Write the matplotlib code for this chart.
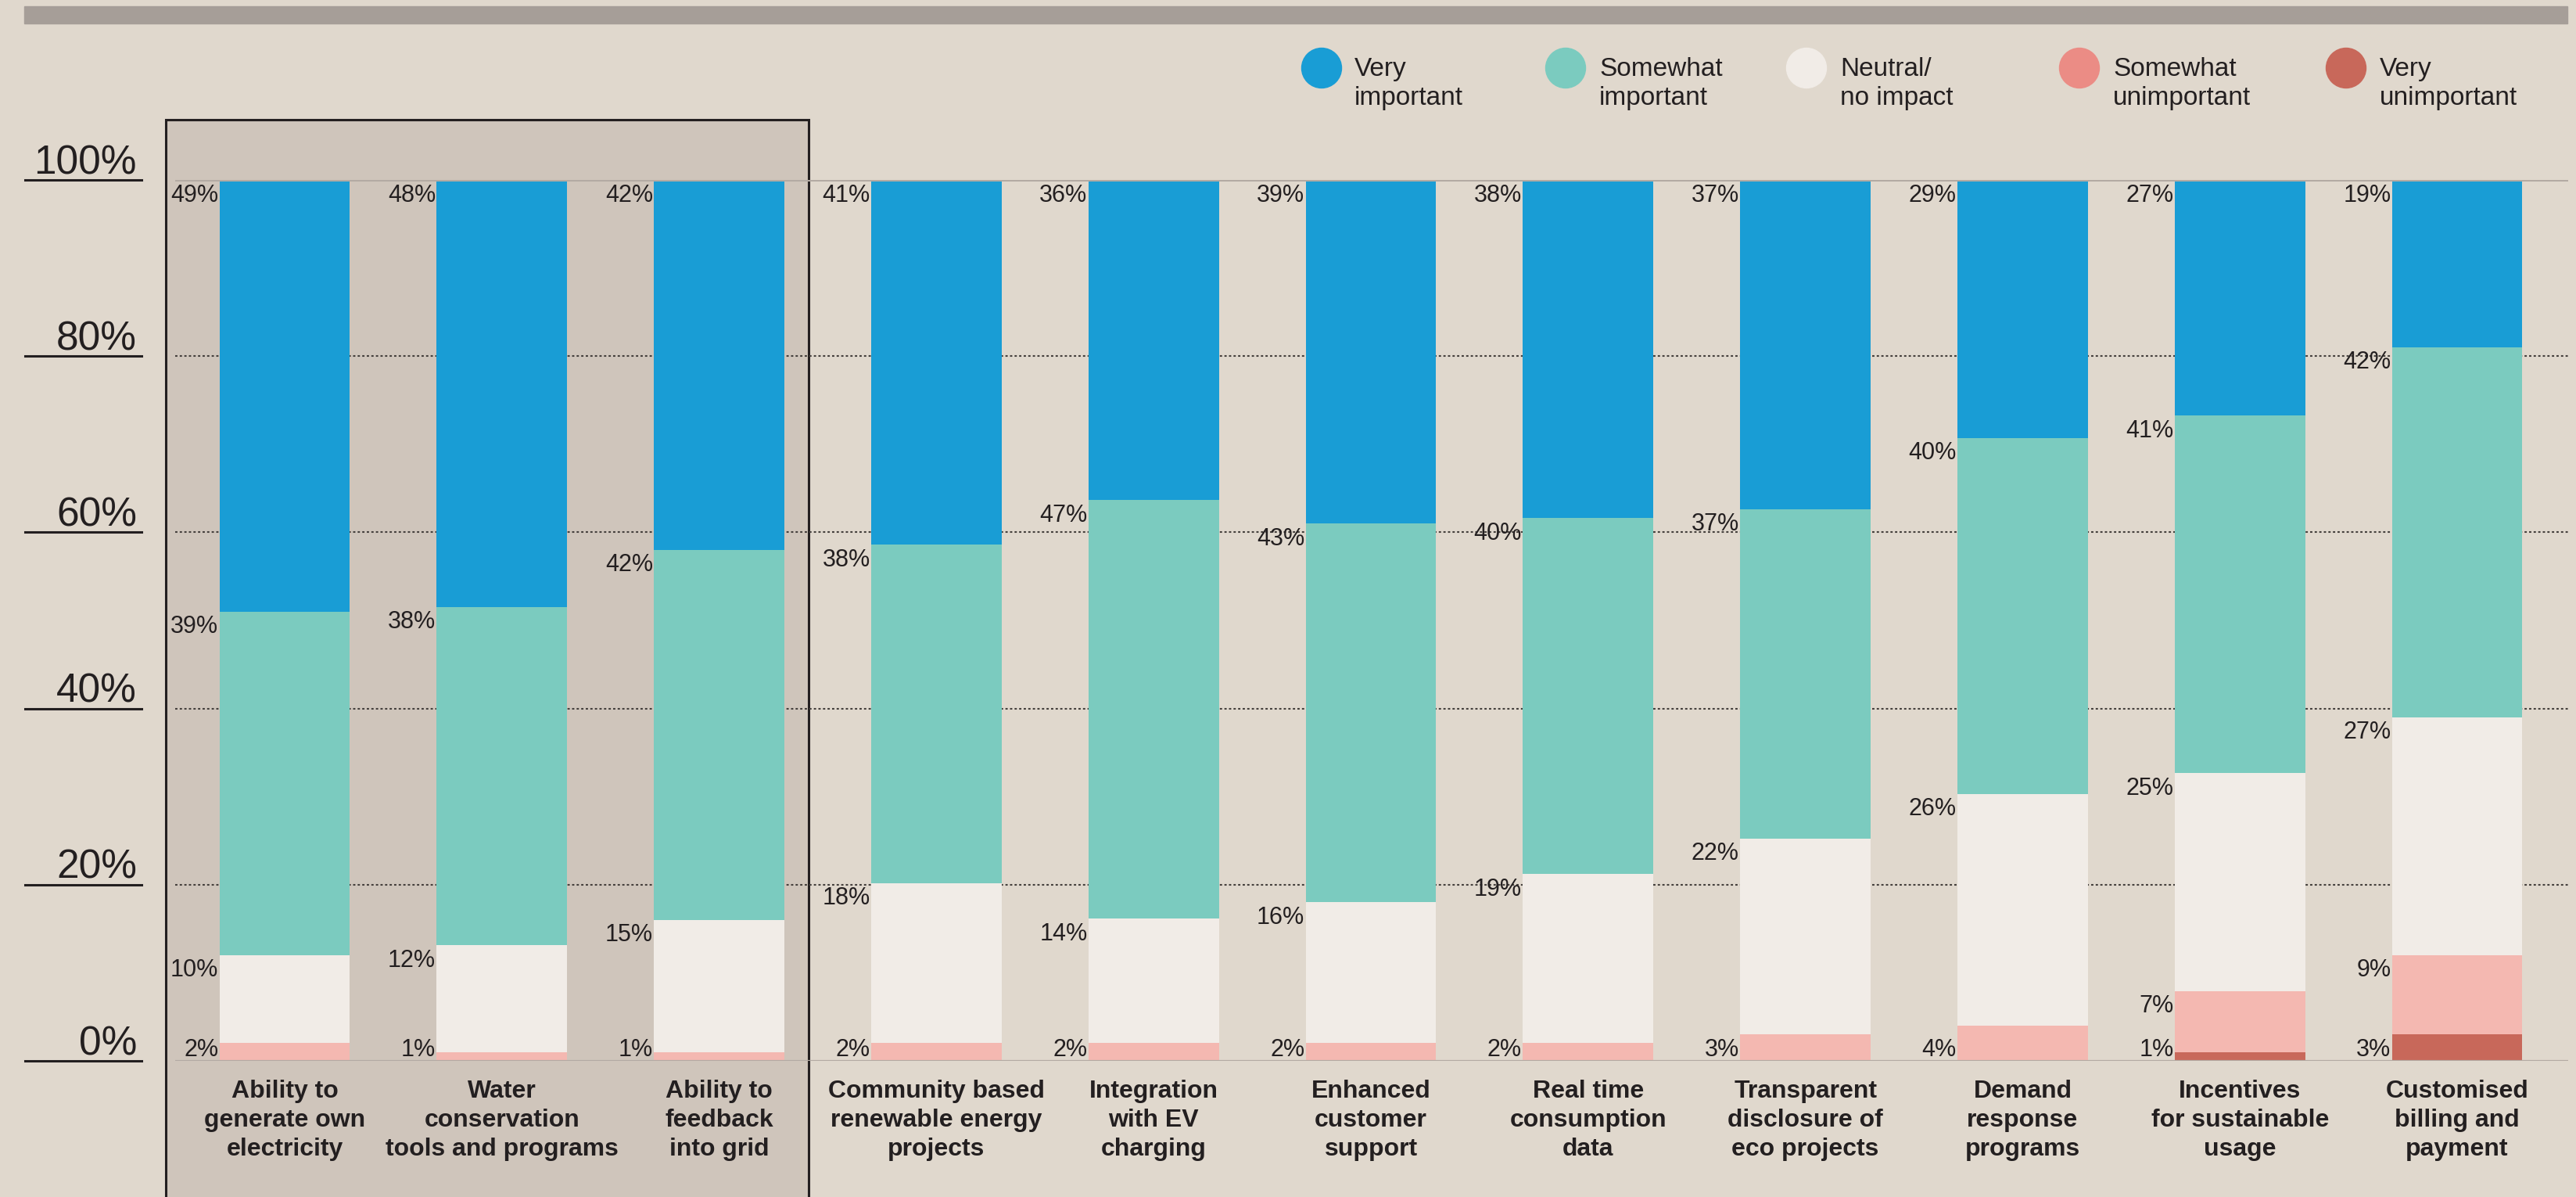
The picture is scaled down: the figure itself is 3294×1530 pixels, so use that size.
import numpy as np
import matplotlib.pyplot as plt
from matplotlib.patches import Rectangle, Ellipse
from matplotlib.lines import Line2D
from matplotlib.transforms import blended_transform_factory

plt.rcParams['font.family'] = ['Liberation Sans', 'DejaVu Sans']

categories = [
    "Ability to\ngenerate own\nelectricity",
    "Water\nconservation\ntools and programs",
    "Ability to\nfeedback\ninto grid",
    "Community based\nrenewable energy\nprojects",
    "Integration\nwith EV\ncharging",
    "Enhanced\ncustomer\nsupport",
    "Real time\nconsumption\ndata",
    "Transparent\ndisclosure of\neco projects",
    "Demand\nresponse\nprograms",
    "Incentives\nfor sustainable\nusage",
    "Customised\nbilling and\npayment",
]

# stacked bottom -> top
very_unimportant = [0, 0, 0, 0, 0, 0, 0, 0, 0, 1, 3]
somewhat_unimportant = [2, 1, 1, 2, 2, 2, 2, 3, 4, 7, 9]
neutral = [10, 12, 15, 18, 14, 16, 19, 22, 26, 25, 27]
somewhat_important = [39, 38, 42, 38, 47, 43, 40, 37, 40, 41, 42]
very_important = [49, 48, 42, 41, 36, 39, 38, 37, 29, 27, 19]

series_names = ["Very\nunimportant", "Somewhat\nunimportant", "Neutral/\nno impact",
                "Somewhat\nimportant", "Very\nimportant"]
bar_colors = ["#c8685a", "#f4b8b1", "#f1ece7", "#7bcbbf", "#199dd5"]
legend_colors = ["#c8685a", "#eb8c85", "#f1ece7", "#7bcbbf", "#199dd5"]
yticks = [0, 20, 40, 60, 80, 100]
n_highlight = 3  # first group gets the shaded panel

BG = "#e0d8cd"
PANEL = "#cfc5bb"
INK = "#231f20"
GRID = "#b3aaa3"

W, H = 3294, 1530
fig = plt.figure(figsize=(W / 100, H / 100), dpi=100, facecolor=BG)

# top rule
fig.add_artist(Rectangle((31 / W, 1 - 30 / H), (3283 - 31) / W, 22 / H,
                         transform=fig.transFigure, color="#a69e98", zorder=-1))

ax = fig.add_axes([224 / W, 174 / H, 3060 / W, 1126 / H])
ax.set_facecolor("none")
for s in ax.spines.values():
    s.set_visible(False)
ax.set_xlim(-0.504, 10.511)
ax.set_ylim(0, 100)

data = np.array([very_unimportant, somewhat_unimportant, neutral,
                 somewhat_important, very_important], dtype=float)
shares = data / data.sum(axis=0) * 100
x = np.arange(len(categories))
width = 0.6

# shaded panel behind the first group
panel_tr = blended_transform_factory(ax.transData, fig.transFigure)
left = x[0] - width / 2 - 0.248
right = x[n_highlight - 1] + width / 2 + 0.112
ax.add_patch(Rectangle((left, -0.05), right - left, 0.05 + 1 - 153 / H,
                       transform=panel_tr, facecolor=PANEL, edgecolor=INK,
                       linewidth=2.2, clip_on=False, zorder=0))

# gridlines
for t in yticks[1:-1]:
    ax.axhline(t, color="#45403d", linewidth=1.5, linestyle=(0, (1.4, 1.4)), zorder=1)
ax.axhline(100, color=GRID, linewidth=2.2, zorder=4)
ax.axhline(0, color=GRID, linewidth=1.6, zorder=4)

bottom = np.zeros(len(categories))
for k in range(len(data)):
    ax.bar(x, shares[k], bottom=bottom, width=width, color=bar_colors[k],
           linewidth=0, zorder=3)
    bottom += shares[k]

# value labels to the left of each segment
for i in range(len(categories)):
    cum = 0.0
    first = True
    for k in range(len(data)):
        v = data[k, i]
        cum += shares[k, i]
        if v <= 0:
            continue
        if first:
            ax.text(x[i] - width / 2 - 0.005, 0.5, f"{int(v)}%", ha="right",
                    va="baseline", fontsize=22, color=INK, zorder=5)
            first = False
        else:
            ax.text(x[i] - width / 2 - 0.005, cum - 0.4, f"{int(v)}%", ha="right",
                    va="top", fontsize=22, color=INK, zorder=5)

ax.set_yticks([])
ax.set_xticks(x)
ax.set_xticklabels(categories, fontsize=23, fontweight="bold", color=INK,
                   linespacing=1.32)
ax.tick_params(axis="x", length=0, pad=17)

# y-axis labels with underline
ylab_tr = blended_transform_factory(fig.transFigure, ax.transData)
for t in yticks:
    ax.text(175 / W, t + 0.7, f"{t}%", transform=ylab_tr, ha="right",
            va="baseline", fontsize=37, color=INK)
    ax.add_line(Line2D([32 / W, 181 / W], [t, t], transform=ylab_tr,
                       color=INK, linewidth=2.2, clip_on=False))

# legend
leg_cx = [1690, 2002, 2310, 2659, 3000]
leg_tx = [1732, 2045, 2353, 2702, 3043]
order = [4, 3, 2, 1, 0]
for j, k in enumerate(order):
    fig.add_artist(Ellipse((leg_cx[j] / W, 1 - 87 / H), 51 / W, 51 / H,
                           transform=fig.transFigure, color=legend_colors[k]))
    fig.text(leg_tx[j] / W, 1 - 73 / H, series_names[k], ha="left", va="top",
             fontsize=24, color=INK, linespacing=1.25)

fig.savefig("out.png", dpi=100, facecolor=BG)
